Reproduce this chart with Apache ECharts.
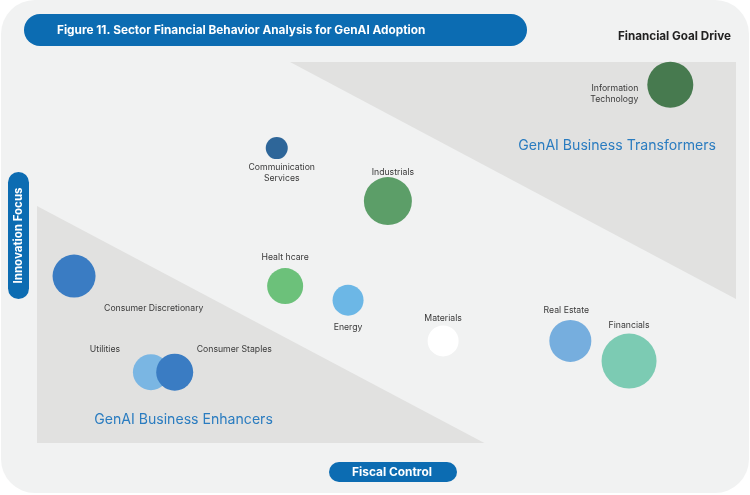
<!DOCTYPE html>
<html>
<head>
<meta charset="utf-8">
<script src="https://cdn.jsdelivr.net/npm/echarts@6/dist/echarts.min.js"></script>
<style>
html,body{margin:0;padding:0;background:#ffffff;}
#chart{width:750px;height:495px;}
</style>
</head>
<body>
<div id="chart"></div>
<script>
// ---- data ----
const sectorLabels = ['Information\nTechnology', 'Commuinication\nServices', 'Industrials', 'Consumer Discretionary', 'Healt hcare', 'Energy', 'Materials', 'Real Estate', 'Financials', 'Utilities', 'Consumer Staples'];
const fiscalControl = [90.6, 34.3, 50.2, 5.3, 35.5, 44.5, 58.1, 76.3, 84.7, 16.3, 19.7];
const innovationFocus = [94.0, 77.4, 63.5, 43.8, 41.2, 37.5, 26.8, 26.8, 21.5, 18.6, 18.6];
const bubbleSize = [46, 22, 48, 43, 36, 31, 31, 42, 55, 36, 37];

const transformerZone = [[36.2, 100], [100, 100], [100, 37.8]];
const enhancerZone = [[0, 62.2], [0, 0], [64.0, 0]];
const zoneNames = ['GenAI Business Transformers', 'GenAI Business Enhancers'];
const zoneLabelAt = [[83.0, 77.9], [20.96, 6.1]];

const titleText = 'Figure 11. Sector Financial Behavior Analysis for GenAI Adoption';
const cornerText = 'Financial Goal Drive';
const xName = 'Fiscal Control';
const yName = 'Innovation Focus';

// ---- styles ----
const bubbleColors = ['#477a4f', '#2e6699', '#5c9e68', '#3a7cc3', '#6cc17a', '#6cb7e6', '#ffffff', '#76aede', '#7ccbb3', '#7ab6e3', '#3a7cc3'];
const labelPlace = [
  {position: 'left', distance: 9, offset: [0, 9]},
  {position: 'bottom', distance: 3, offset: [5, 0]},
  {position: 'top', distance: 0, offset: [5, 1]},
  {position: [51.5, 53.5], align: 'left', verticalAlign: 'middle'},
  {position: 'top', distance: 5},
  {position: 'bottom', distance: 6},
  {position: 'top', distance: 1.5},
  {position: 'top', distance: 4.5, offset: [-4, 0]},
  {position: 'top', distance: 3},
  {position: [-28, -4.5], align: 'center', verticalAlign: 'middle'},
  {position: [40.5, -4], align: 'left', verticalAlign: 'middle'}
];
const FONT = 'Inter, Roboto, sans-serif';
const BLUE = '#0c6cb2';

const zones = [transformerZone, enhancerZone];

const chart = echarts.init(document.getElementById('chart'), null, {renderer: 'canvas'});

const option = {
  backgroundColor: '#ffffff',
  animation: false,
  grid: {left: 37, right: 14, top: 62, bottom: 52},
  xAxis: {type: 'value', min: 0, max: 100, show: false},
  yAxis: {type: 'value', min: 0, max: 100, show: false},
  graphic: [
    {type: 'rect', z: -10, shape: {x: 1, y: 0, width: 748, height: 493, r: 34}, style: {fill: '#f1f2f2'}},
    {type: 'rect', z: 10, shape: {x: 24, y: 14, width: 503, height: 32, r: 16}, style: {fill: BLUE}},
    {type: 'text', z: 11, x: 57, y: 30, style: {text: titleText, fill: '#ffffff', font: 'bold 11.8px ' + FONT, verticalAlign: 'middle', align: 'left'}},
    {type: 'text', z: 11, x: 731, y: 36, style: {text: cornerText, fill: '#222222', font: 'bold 11.7px ' + FONT, verticalAlign: 'middle', align: 'right'}},
    {type: 'rect', z: 10, shape: {x: 329, y: 462, width: 128, height: 20, r: 10}, style: {fill: BLUE}},
    {type: 'text', z: 11, x: 392, y: 472, style: {text: xName, fill: '#ffffff', font: 'bold 11.9px ' + FONT, verticalAlign: 'middle', align: 'center'}},
    {type: 'rect', z: 10, shape: {x: 8, y: 172, width: 21, height: 127, r: 10.5}, style: {fill: BLUE}},
    {type: 'text', z: 11, x: 18.5, y: 235.5, rotation: Math.PI / 2, style: {text: yName, fill: '#ffffff', font: 'bold 11.5px ' + FONT, verticalAlign: 'middle', align: 'center'}}
  ],
  series: [
    {
      type: 'custom',
      z: 1,
      silent: true,
      data: [0, 1],
      renderItem: function (params, api) {
        const i = params.dataIndex;
        const pts = zones[i].map(p => api.coord(p));
        const lp = api.coord(zoneLabelAt[i]);
        return {
          type: 'group',
          children: [
            {type: 'polygon', shape: {points: pts}, style: {fill: '#e1e1e0'}},
            {type: 'text', x: lp[0], y: lp[1], style: {text: zoneNames[i], fill: '#2a7cc0', font: '14.1px ' + FONT, align: 'center', verticalAlign: 'middle'}}
          ]
        };
      }
    },
    {
      type: 'scatter',
      z: 5,
      data: sectorLabels.map((name, i) => ({
        name: name,
        value: [fiscalControl[i], innovationFocus[i], bubbleSize[i]],
        itemStyle: {color: bubbleColors[i], opacity: 1},
        label: Object.assign({show: true, formatter: name, color: '#3a3a3a', fontSize: 8.7, fontFamily: FONT, lineHeight: 11}, labelPlace[i])
      })),
      symbolSize: v => v[2]
    }
  ]
};
chart.setOption(option);
</script>
</body>
</html>
